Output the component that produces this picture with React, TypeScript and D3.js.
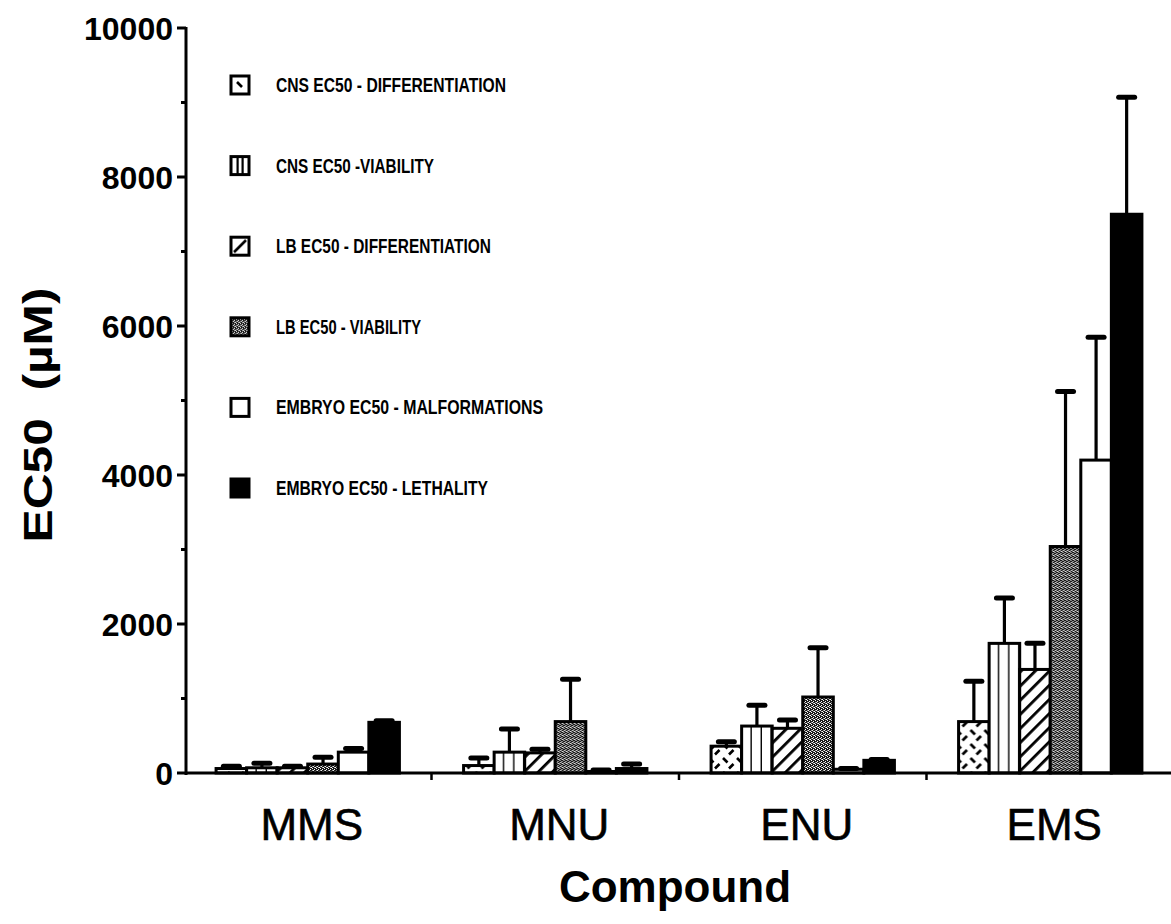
import React from "react";
import * as d3 from "d3";

const compounds = ["MMS", "MNU", "ENU", "EMS"];
const seriesKeys = ["cnsDiff", "cnsViab", "lbDiff", "lbViab", "embMalf", "embLeth"];
const seriesLabels = [
  "CNS EC50 - DIFFERENTIATION",
  "CNS EC50 -VIABILITY",
  "LB EC50 - DIFFERENTIATION",
  "LB EC50 - VIABILITY",
  "EMBRYO EC50 - MALFORMATIONS",
  "EMBRYO EC50 - LETHALITY",
];
// mean values (µM) per compound, in compound order
const cnsDiff = [60, 100, 360, 690];
const cnsViab = [70, 280, 630, 1740];
const lbDiff = [70, 270, 600, 1390];
const lbViab = [120, 690, 1020, 3040];
const embMalf = [280, 20, 50, 4200];
const embLeth = [680, 60, 170, 7500];
// upper error (SD)
const cnsDiffErr = [30, 100, 60, 540];
const cnsViabErr = [60, 310, 280, 610];
const lbDiffErr = [20, 50, 110, 350];
const lbViabErr = [90, 570, 660, 2080];
const embMalfErr = [50, 20, 10, 1650];
const embLethErr = [20, 60, 10, 1570];
const yMajorTicks = [0, 2000, 4000, 6000, 8000, 10000];

const means = [cnsDiff, cnsViab, lbDiff, lbViab, embMalf, embLeth];
const errs = [cnsDiffErr, cnsViabErr, lbDiffErr, lbViabErr, embMalfErr, embLethErr];
const fills = ["url(#pDash)", "url(#pVert)", "url(#pDiag)", "url(#pStip)", "#ffffff", "#000000"];
const legendFills = ["url(#pDashL)", "url(#pVertL)", "url(#pDiagL)", "url(#pStip)", "#ffffff", "#000000"];

const W = 1171;
const H = 924;
const FONT = "'Liberation Sans', Arial, Helvetica, sans-serif";
const NARROW = "'Liberation Sans Narrow', 'Arial Narrow', 'Liberation Sans', Arial, sans-serif";

export default function App() {
  const y = d3.scaleLinear().domain([0, 10000]).range([773, 28]);
  const x0 = d3.scaleBand<string>().domain(compounds).range([184, 1174]);
  const x1 = d3
    .scaleBand<string>()
    .domain(seriesKeys)
    .range([0, x0.bandwidth()])
    .paddingInner(0)
    .paddingOuter(1.05);
  const bw = x1.bandwidth();
  const axisX = 186;
  const y0 = y(0);
  const minorTicks = y.ticks(10).filter((t) => !yMajorTicks.includes(t));

  const legendY = d3.scaleLinear().domain([0, 5]).range([85, 488]);
  const legendWidths = [230, 158, 215, 145, 267, 212];

  return (
    <svg width={W} height={H} style={{ position: "absolute", left: 0, top: 0, background: "#fff" }}>
      <defs>
        <pattern id="pDash" patternUnits="userSpaceOnUse" width="14" height="14">
          <rect width="14" height="14" fill="#fff" />
          <line x1="2" y1="2" x2="6.5" y2="6.5" stroke="#000" strokeWidth="2.6" />
          <line x1="8" y1="12.5" x2="12.5" y2="8" stroke="#000" strokeWidth="2.6" />
        </pattern>
        <pattern id="pDashL" patternUnits="objectBoundingBox" x="0" y="0" width="1" height="1">
          <rect width="30" height="30" fill="#fff" />
          <line x1="6" y1="6" x2="11" y2="11" stroke="#000" strokeWidth="2.6" />
        </pattern>
        <pattern id="pVert" patternUnits="objectBoundingBox" x="0" y="0" width="0.3333" height="1">
          <rect width="100" height="10000" fill="#fff" />
          <rect x="8.8" y="0" width="2.8" height="10000" fill="#000" />
        </pattern>
        <pattern id="pVertL" patternUnits="objectBoundingBox" x="0" y="0" width="1" height="1">
          <rect width="30" height="30" fill="#fff" />
          <rect x="5.5" y="0" width="2.2" height="30" fill="#000" />
          <rect x="10.5" y="0" width="2.2" height="30" fill="#000" />
        </pattern>
        <pattern id="pDiag" patternUnits="userSpaceOnUse" width="10" height="10" patternTransform="rotate(45)">
          <rect width="10" height="10" fill="#fff" />
          <rect x="0" y="0" width="2.8" height="10" fill="#000" />
        </pattern>
        <pattern id="pDiagL" patternUnits="objectBoundingBox" x="0" y="0" width="1" height="1">
          <rect width="30" height="30" fill="#fff" />
          <line x1="3" y1="15" x2="15" y2="3" stroke="#000" strokeWidth="2.6" />
        </pattern>
        <pattern id="pStip" patternUnits="userSpaceOnUse" width="4" height="4">
          <rect width="4" height="4" fill="#1a1a1a" />
          <rect x="0" y="0" width="1" height="1" fill="#fff" />
          <rect x="2" y="1" width="1" height="1" fill="#fff" />
          <rect x="1" y="2" width="1" height="1" fill="#eee" />
          <rect x="3" y="3" width="1" height="1" fill="#fff" />
          <rect x="2" y="3" width="1" height="1" fill="#bbb" />
          <rect x="0" y="2" width="1" height="1" fill="#999" />
        </pattern>
      </defs>

      {/* bars */}
      {compounds.map((c, ci) => (
        <g key={c} transform={`translate(${x0(c)},0)`}>
          {seriesKeys.map((s, si) => {
            const v = means[si][ci];
            const top = y(v);
            return (
              <rect
                key={s}
                x={x1(s)}
                y={top}
                width={bw}
                height={Math.max(0, y0 - top)}
                fill={fills[si]}
                stroke="#000"
                strokeWidth={3}
              />
            );
          })}
          {seriesKeys.map((s, si) => {
            const v = means[si][ci];
            const e = errs[si][ci];
            const cx = (x1(s) as number) + bw / 2;
            return (
              <g key={s + "e"}>
                <line x1={cx} x2={cx} y1={y(v)} y2={y(v + e)} stroke="#000" strokeWidth={3.2} />
                <line
                  x1={cx - 8}
                  x2={cx + 8}
                  y1={y(v + e)}
                  y2={y(v + e)}
                  stroke="#000"
                  strokeWidth={5}
                  strokeLinecap="round"
                />
              </g>
            );
          })}
        </g>
      ))}

      {/* axes */}
      <line x1={axisX} x2={axisX} y1={y(10000) - 1} y2={y0 + 2} stroke="#000" strokeWidth={3} />
      <line x1={axisX - 1} x2={W} y1={y0} y2={y0} stroke="#000" strokeWidth={3} />
      {yMajorTicks.map((t) => (
        <g key={t}>
          <line x1={axisX - 9} x2={axisX} y1={y(t)} y2={y(t)} stroke="#000" strokeWidth={3} />
          <text
            x={173}
            y={y(t)}
            dy="0.36em"
            textAnchor="end"
            fontFamily={FONT}
            fontWeight="bold"
            fontSize={32}
          >
            {t}
          </text>
        </g>
      ))}
      {minorTicks.map((t) => (
        <line key={t} x1={axisX - 5} x2={axisX} y1={y(t)} y2={y(t)} stroke="#000" strokeWidth={3} />
      ))}
      {compounds.slice(1).map((c) => (
        <line key={c} x1={x0(c)} x2={x0(c)} y1={y0} y2={y0 + 7} stroke="#000" strokeWidth={2.5} />
      ))}
      {compounds.map((c) => (
        <text
          key={c}
          x={(x0(c) as number) + x0.bandwidth() / 2 + 4}
          y={840}
          textAnchor="middle"
          fontFamily={FONT}
          fontSize={44}
          stroke="#000"
          strokeWidth={0.6}
        >
          {c}
        </text>
      ))}
      <text x={675} y={902} textAnchor="middle" fontFamily={FONT} fontWeight="bold" fontSize={44}>
        Compound
      </text>
      <text
        transform={`translate(52,415) rotate(-90)`}
        textAnchor="middle"
        fontFamily={FONT}
        fontWeight="bold"
        fontSize={40}
        textLength={255}
        lengthAdjust="spacingAndGlyphs"
      >
        {"EC50\u00A0\u00A0(µM)"}
      </text>

      {/* legend */}
      {seriesLabels.map((l, i) => (
        <g key={l} transform={`translate(0,${legendY(i)})`}>
          <rect x={231} y={-9} width={18} height={18} fill={legendFills[i]} stroke="#000" strokeWidth={3} />
          <text
            x={276}
            y={7}
            fontFamily={NARROW}
            fontWeight="bold"
            fontSize={20}
            textLength={legendWidths[i]}
            lengthAdjust="spacingAndGlyphs"
          >
            {l}
          </text>
        </g>
      ))}
    </svg>
  );
}
